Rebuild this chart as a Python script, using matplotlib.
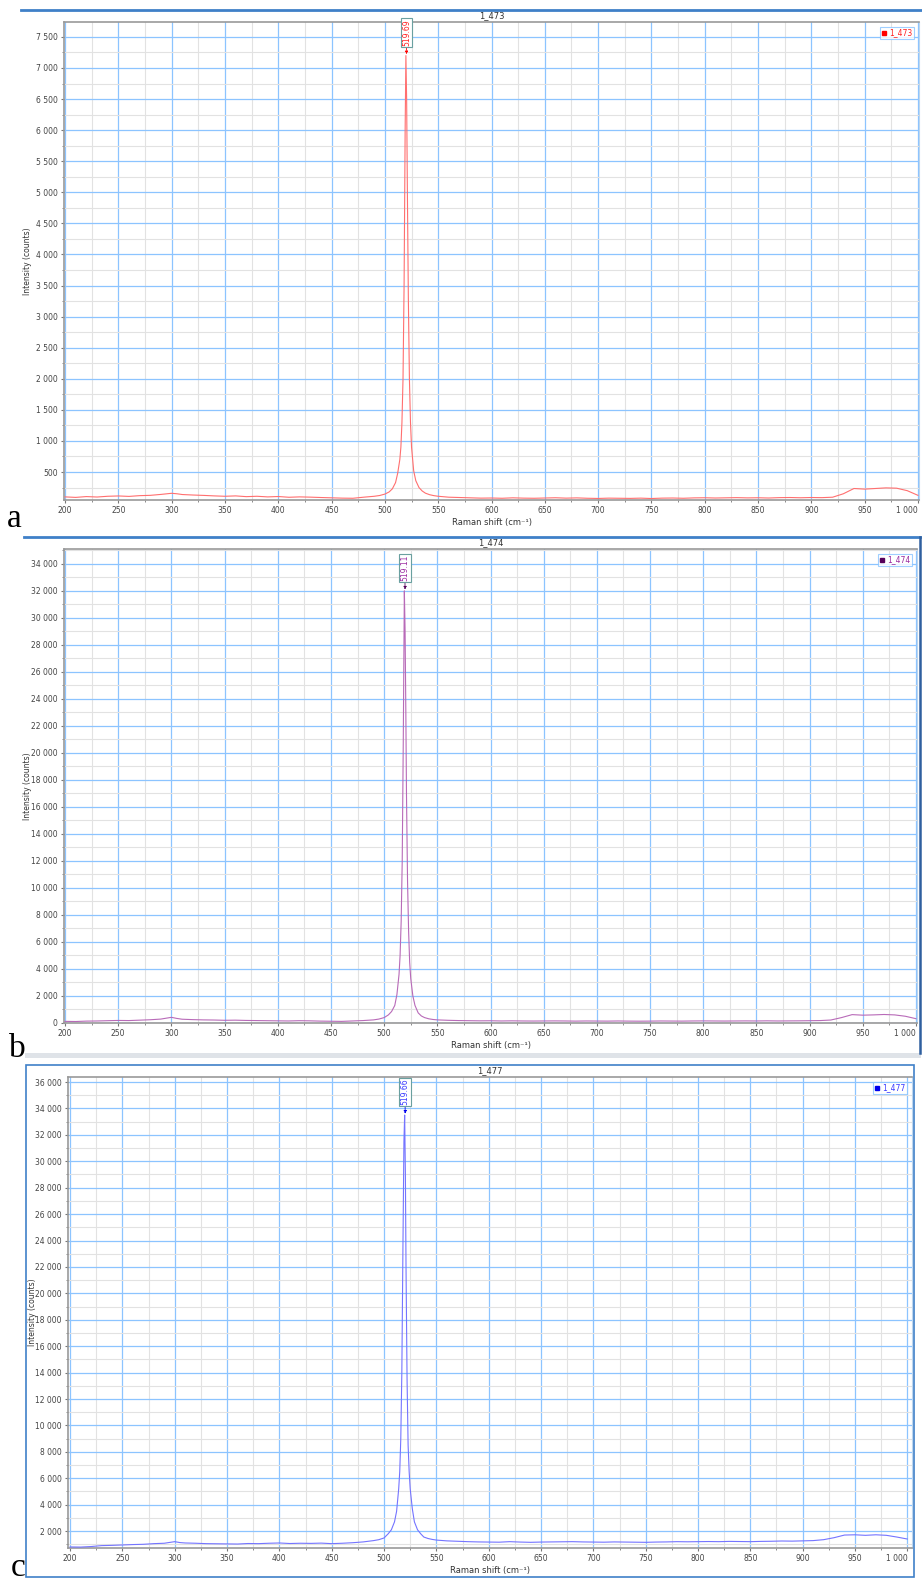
import matplotlib
matplotlib.use("Agg")
import matplotlib.pyplot as plt
from matplotlib.lines import Line2D
from matplotlib.patches import Rectangle
from matplotlib.ticker import MultipleLocator, FuncFormatter

# shared Raman shift grid (cm-1)
shift = [200, 210, 220, 230, 240, 250, 260, 270, 280, 290, 300, 305, 310, 320, 330, 340, 350,
         360, 370, 380, 390, 400, 410, 420, 430, 440, 450, 460, 470, 480, 490,
         495, 500, 504, 507, 510, 512, 514, 515, 516, 517, 518, 519, 519.7, 520.4, 521, 522,
         523, 524, 525, 527, 529, 532, 535, 538, 542, 546, 550,
         560, 570, 580, 590, 600, 610, 620, 630, 640, 650, 660, 670, 680, 690, 700, 710, 720,
         730, 740, 750, 760, 770, 780, 790, 800, 810, 820, 830, 840, 850, 860, 870, 880, 890,
         900, 910, 920, 930, 940, 950, 960, 970, 980, 990, 1000]

counts_473 = [100, 92, 105, 98, 110, 115, 108, 120, 125, 140, 158, 150, 138, 130, 124, 116, 110,
              116, 104, 110, 100, 106, 94, 100, 96, 90, 85, 80, 78, 95, 110,
              122, 145, 180, 230, 330, 480, 700, 900, 1300, 2000, 3500, 6000, 7200, 6500, 5200, 3300,
              2000, 1300, 900, 520, 360, 250, 195, 160, 135, 120, 110,
              95, 90, 85, 80, 82, 78, 85, 80, 78, 82, 86, 80, 84, 78, 75, 80, 78,
              76, 80, 74, 80, 82, 78, 84, 86, 82, 85, 88, 84, 86, 82, 88, 90, 86,
              90, 88, 95, 150, 235, 225, 235, 245, 240, 200, 125]

counts_474 = [120, 110, 140, 150, 170, 190, 180, 210, 240, 290, 420, 340, 280, 250, 230, 220, 200,
              210, 190, 180, 170, 160, 150, 170, 160, 140, 130, 120, 150, 180, 230,
              290, 400, 600, 850, 1300, 2100, 3600, 5000, 7500, 12000, 21000, 32000, 29000, 23000, 17000, 10500,
              6800, 4500, 3300, 2000, 1300, 750, 520, 400, 310, 260, 230,
              200, 180, 170, 160, 165, 150, 160, 150, 145, 150, 155, 150, 140, 150, 145, 140, 150,
              140, 135, 140, 150, 145, 140, 150, 155, 150, 145, 150, 155, 150, 160, 150, 155, 160,
              170, 180, 220, 400, 620, 580, 600, 630, 600, 500, 320]

counts_477 = [800, 790, 830, 900, 920, 950, 980, 1000, 1050, 1080, 1200, 1130, 1100, 1080, 1050, 1040, 1030,
              1020, 1060, 1050, 1080, 1100, 1060, 1080, 1070, 1090, 1050, 1080, 1120, 1180, 1280,
              1350, 1480, 1800, 2100, 2700, 3500, 5200, 6500, 9000, 14000, 23000, 31500, 33500, 29000, 22000, 13500,
              8500, 6500, 5200, 3700, 2700, 2100, 1800, 1550, 1440, 1370, 1320,
              1260, 1230, 1200, 1180, 1170, 1160, 1200, 1170, 1150, 1170, 1180, 1190, 1200, 1180, 1170, 1160, 1180,
              1170, 1160, 1150, 1170, 1180, 1200, 1190, 1200, 1210, 1200, 1220, 1210, 1200, 1220, 1230, 1250, 1240,
              1260, 1280, 1350, 1500, 1700, 1720, 1680, 1720, 1680, 1550, 1400]

names = ["1_473", "1_474", "1_477"]
peak_pos = [519.69, 519.11, 519.66]
peak_text = ["519.69", "519.11", "519.66"]
panel_letters = ["a", "b", "c"]

W, H = 922, 1585
fig = plt.figure(figsize=(W / 100, H / 100), dpi=100)


def box(l, t, r, b):
    # pixel box -> figure fraction [left, bottom, width, height]
    return [l / W, 1 - b / H, (r - l) / W, (b - t) / H]


def thousands(v, pos):
    return f"{int(round(v)):,}".replace(",", " ")


# panel frames
frame_blue = "#3f80c8"
fig.add_artist(Line2D([21 / W, 1], [1 - 10 / H] * 2, color=frame_blue, lw=2))
fig.add_artist(Line2D([24 / W, 920 / W], [1 - 537 / H] * 2, color=frame_blue, lw=2))
fig.add_artist(Line2D([920 / W] * 2, [1 - 537 / H, 1 - 1053 / H], color="#2f5f9f", lw=1.8))
fig.add_artist(Rectangle((25 / W, 1 - 1058 / H), 896 / W, 5 / H, color="#dfe3e8", lw=0))
fig.add_artist(Rectangle((26 / W, 1 - 1577 / H), 888 / W, 512 / H, fill=False,
                         edgecolor=frame_blue, lw=1.2))

panels = [
    dict(rect=box(64, 22, 919, 500), xlim=(199, 1001), ylim=(50, 7740), ymaj=500, ymin=250,
         y=counts_473, line="#ff6f6f", mark="#ff0000", txt="#ff2020", letter_xy=(7, 527),
         ylab_x=32, title_y=16),
    dict(rect=box(64, 549, 917, 1023), xlim=(199, 1001), ylim=(0, 35100), ymaj=2000, ymin=1000,
         y=counts_474, line="#b86ab8", mark="#55005a", txt="#9a2aa0", letter_xy=(9, 1057),
         ylab_x=32, title_y=543),
    dict(rect=box(68, 1077, 912, 1548), xlim=(198, 1004.5), ylim=(720, 36380), ymaj=2000, ymin=1000,
         y=counts_477, line="#7474ff", mark="#0000ee", txt="#3a3aff", letter_xy=(11, 1576),
         ylab_x=37, title_y=1071),
]

for i, p in enumerate(panels):
    ax = fig.add_axes(p["rect"])
    ax.plot(shift, p["y"], color=p["line"], lw=0.8, zorder=3)
    ax.set_xlim(*p["xlim"])
    ax.set_ylim(*p["ylim"])

    ax.xaxis.set_major_locator(MultipleLocator(50))
    ax.xaxis.set_minor_locator(MultipleLocator(25))
    ax.yaxis.set_major_locator(MultipleLocator(p["ymaj"]))
    ax.yaxis.set_minor_locator(MultipleLocator(p["ymin"]))
    ax.xaxis.set_major_formatter(FuncFormatter(thousands))
    ax.yaxis.set_major_formatter(FuncFormatter(thousands))

    ax.grid(which="minor", color="#e2e2e2", lw=0.8, zorder=0)
    ax.grid(which="major", color="#8cc4ff", lw=0.9, zorder=1)
    ax.set_axisbelow(True)

    ax.tick_params(which="both", direction="out", colors="#777777", labelcolor="#444444",
                   labelsize=5.5, pad=2)
    ax.tick_params(which="major", length=2.5, width=0.8)
    ax.tick_params(which="minor", length=1.5, width=0.6)
    for side in ["left", "bottom", "top"]:
        ax.spines[side].set_color("#999999")
        ax.spines[side].set_linewidth(1.2)
    ax.spines["right"].set_color("#bcd6ee")

    # title sits between the panel frame and the plot top
    l, b, w, h = p["rect"]
    fig.text(l + w / 2, 1 - p["title_y"] / H, names[i], fontsize=6, color="#333333",
             ha="center", va="center")
    ax.set_xlabel("Raman shift (cm⁻¹)", fontsize=6, color="#333333", labelpad=2)
    ax.set_ylabel("Intensity (counts)", fontsize=5.5, color="#333333")
    ax.yaxis.set_label_coords((p["ylab_x"] / W - l) / w, 0.5)

    # keep the last "1 000" label inside the picture
    fig.canvas.draw()
    for lab in ax.get_xticklabels():
        if lab.get_text() == "1 000":
            lab.set_horizontalalignment("right")

    # peak marker and rotated peak label
    peak_y = max(p["y"])
    ax.annotate(peak_text[i], xy=(peak_pos[i] + 0.5, peak_y), xytext=(0, 7),
                textcoords="offset points", rotation=90, ha="center", va="bottom",
                fontsize=5.5, color=p["txt"],
                bbox=dict(boxstyle="square,pad=0.15", fc="white", ec="#6aa0a0", lw=0.8),
                arrowprops=dict(arrowstyle="-|>", color=p["mark"], lw=0.6, ls="--",
                                mutation_scale=4, shrinkA=0, shrinkB=1),
                zorder=5)

    handle = Line2D([], [], marker="s", ls="none", color=p["mark"], markersize=2.5)
    leg = ax.legend([handle], [names[i]], loc="upper right", fontsize=5.5, frameon=True,
                    fancybox=False, borderpad=0.25, handlelength=0.6, handletextpad=0.4,
                    borderaxespad=0.6, labelcolor=p["txt"])
    leg.get_frame().set_edgecolor("#88c4ff")
    leg.get_frame().set_linewidth(0.8)

    lx, ly = p["letter_xy"]
    fig.text(lx / W, 1 - ly / H, panel_letters[i], fontsize=24, family="Liberation Serif",
             ha="left", va="baseline")

fig.savefig("out.png", dpi=100)
